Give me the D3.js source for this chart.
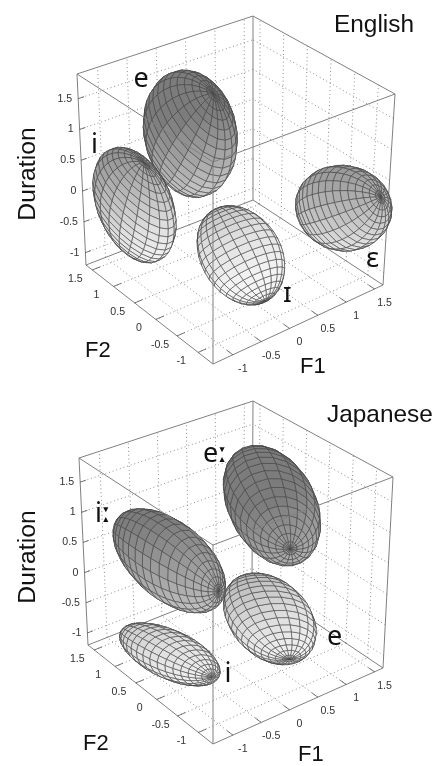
<!DOCTYPE html>
<html><head><meta charset="utf-8">
<script src="https://cdn.jsdelivr.net/npm/d3@7"></script>
<style>html,body{margin:0;padding:0;background:#fff}svg{display:block;filter:blur(0.4px)}</style>
</head><body><svg id="c" width="438" height="766"></svg>
<script>
// ---- data (F1, F2, Duration) ----
const tickValues = [-1, -0.5, 0, 0.5, 1, 1.5];
const tickLabels = ["-1", "-0.5", "0", "0.5", "1", "1.5"];
const f1Range = [-1.35, 1.65];
const f2Range = [-1.35, 1.65];
const durRange = [-1.2, 1.9];

const englishVowels = ["ɛ", "ɪ", "e", "i"];
const englishCenters = [[1.16, -1, 0.08], [0.22, 0.07, -0.815], [-0.25, 0.6, 1.06], [-0.93, 1, -0.05]];
const englishPoleAxes = [[0.23, -0.5, 0.32], [0.36, -0.1, -0.83], [0.16, -0.3, 0.74], [-0.01, -0.25, 0.82]];
const englishSecondAxes = [[0.388, 0, -0.794], [-0.642, 0, -0.029], [0.593, 0, -0.956], [0.65, 0, -0.811]];
const englishThirdAxes = [[0.41, 0, 0.035], [0.076, 0, -0.165], [0.374, 0, 0.136], [0.235, 0, 0.145]];

const japaneseVowels = ["i", "e", "iː", "eː"];
const japaneseCenters = [[-0.98, 0.16, -0.7], [0.52, -0.2, -0.505], [-0.955, 0.17, 0.8], [0.7, 0.02, 1.19]];
const japanesePoleAxes = [[0.515, -0.3, -0.4], [0.193, -0.2, -0.635], [0.465, -0.5, -0.417], [-0.07, -0.5, -0.46]];
const japaneseSecondAxes = [[-0.473, 0, 0.053], [-0.75, 0, 0.225], [-0.099, 0, -0.64], [0.78, 0, -0.39]];
const japaneseThirdAxes = [[0.116, 0, -0.38], [0.049, 0, -0.375], [0.46, 0, -0.278], [-0.053, 0, -0.67]];

// ---- layout ----
const panels = [
  { title: "English", titleXY: [334, 32], durXY: [35, 174], f2XY: [85, 357], f1XY: [300, 373],
    vowels: englishVowels, centers: englishCenters, pole: englishPoleAxes, second: englishSecondAxes, third: englishThirdAxes,
    labelXY: [[366, 267], [283, 302], [133.5, 87], [91, 153]],
    bottom: [[[213, 364], [86, 265]], [[383, 285], [253, 200]]],
    top:    [[[213, 162], [77, 74]],  [[395, 94],  [253, 16]]] },
  { title: "Japanese", titleXY: [327, 422], durXY: [35, 557], f2XY: [83, 750], f1XY: [298, 761],
    vowels: japaneseVowels, centers: japaneseCenters, pole: japanesePoleAxes, second: japaneseSecondAxes, third: japaneseThirdAxes,
    labelXY: [[224.5, 682], [327, 645], [95, 522], [203, 462]],
    bottom: [[[213, 744], [88, 645]], [[383, 668], [252, 580]]],
    top:    [[[213, 545], [79, 458]], [[393, 477], [253, 401]]] }
];

const sF1 = d3.scaleLinear().domain(f1Range).range([0, 1]);
const sF2 = d3.scaleLinear().domain(f2Range).range([0, 1]);
const sD = d3.scaleLinear().domain(durRange).range([0, 1]);
const shade = d3.scaleLinear().domain([-1.2, -0.5, 0.1, 1.5]).range(["#f4f4f4", "#e0e0e0", "#c2c2c2", "#7c7c7c"]).clamp(true);

const svg = d3.select("#c");
const lineGen = d3.line();

function makeProjector(panel) {
  return function (f1, f2, d) {
    const u = sF1(f1), v = sF2(f2), w = sD(d);
    return [0, 1].map(k => {
      const b00 = panel.bottom[0][0][k], b01 = panel.bottom[0][1][k], b10 = panel.bottom[1][0][k], b11 = panel.bottom[1][1][k];
      const t00 = panel.top[0][0][k], t01 = panel.top[0][1][k], t10 = panel.top[1][0][k], t11 = panel.top[1][1][k];
      const bl = (a, b, c, e) => (a * (1 - v) + b * v) * (1 - u) + (c * (1 - v) + e * v) * u;
      return bl(b00, b01, b10, b11) * (1 - w) + bl(t00, t01, t10, t11) * w;
    });
  };
}

function drawPanel(panel) {
  const P = makeProjector(panel);
  const g = svg.append("g");
  const [f1a, f1b] = f1Range, [f2a, f2b] = f2Range, [da, db] = durRange;
  const seg = (sel, a, b) => sel.append("path").attr("d", lineGen([P(...a), P(...b)]));

  // dotted grid on floor and two back walls
  const grid = g.append("g").attr("fill", "none").attr("stroke", "#808080").attr("stroke-width", 0.9).attr("stroke-dasharray", "1 2.8");
  tickValues.forEach(t => {
    seg(grid, [t, f2a, da], [t, f2b, da]);
    seg(grid, [f1a, t, da], [f1b, t, da]);
    seg(grid, [t, f2b, da], [t, f2b, db]);
    seg(grid, [f1b, t, da], [f1b, t, db]);
    seg(grid, [f1a, f2b, t], [f1b, f2b, t]);
    seg(grid, [f1b, f2a, t], [f1b, f2b, t]);
  });

  // back box edges
  const edges = g.append("g").attr("fill", "none").attr("stroke", "#808080").attr("stroke-width", 1);
  [[[f1b, f2b, da], [f1b, f2b, db]], [[f1a, f2b, da], [f1b, f2b, da]], [[f1b, f2a, da], [f1b, f2b, da]],
   [[f1a, f2b, db], [f1b, f2b, db]], [[f1b, f2a, db], [f1b, f2b, db]],
   [[f1a, f2b, da], [f1a, f2b, db]], [[f1b, f2a, da], [f1b, f2a, db]],
   [[f1a, f2a, da], [f1a, f2b, da]], [[f1a, f2a, da], [f1b, f2a, da]]]
    .forEach(e => seg(edges, e[0], e[1]));

  // ellipsoids: only faces turned towards the viewer end on top
  const N = 20;
  panel.centers.forEach((c, idx) => {
    const A = panel.pole[idx], B = panel.second[idx], C = panel.third[idx];
    const pt = (i, j) => {
      const th = Math.PI * i / N, ph = 2 * Math.PI * j / N;
      return [0, 1, 2].map(k => c[k] + Math.cos(th) * A[k] + Math.sin(th) * (Math.cos(ph) * B[k] + Math.sin(ph) * C[k]));
    };
    const ring = d3.range(N).map(j => P(...pt(1, j)));
    const frontSign = Math.sign(d3.polygonArea(ring));
    const faces = [];
    d3.range(N).forEach(i => d3.range(N).forEach(j => {
      const q = [pt(i, j), pt(i + 1, j), pt(i + 1, j + 1), pt(i, j + 1)];
      const xy = q.map(p => P(...p));
      const front = Math.sign(d3.polygonArea(xy)) === frontSign;
      faces.push({ xy, front, dur: d3.mean(q, p => p[2]) });
    }));
    faces.sort((a, b) => d3.ascending(a.front, b.front));
    g.append("g").selectAll("path").data(faces).join("path")
      .attr("d", f => lineGen(f.xy) + "Z")
      .attr("fill", f => shade(f.dur))
      .attr("stroke", "#484848").attr("stroke-width", 0.6).attr("stroke-linejoin", "round");
  });

  // front box edges on top
  const front = g.append("g").attr("fill", "none").attr("stroke", "#808080").attr("stroke-width", 1);
  [[[f1a, f2a, da], [f1a, f2a, db]], [[f1a, f2a, db], [f1a, f2b, db]], [[f1a, f2a, db], [f1b, f2a, db]]]
    .forEach(e => seg(front, e[0], e[1]));

  // ticks + labels
  const ticks = g.append("g").attr("fill", "none").attr("stroke", "#555").attr("stroke-width", 0.8);
  const tl = svg.append("g").attr("font-family", "'Liberation Sans',Arial,sans-serif").attr("font-size", 10.6).attr("fill", "#333");
  tickValues.forEach((t, i) => {
    seg(ticks, [t, f2a, da], [t, f2a + 0.14, da]);
    seg(ticks, [f1a, t, da], [f1a + 0.14, t, da]);
    seg(ticks, [f1a, f2b, t], [f1a + 0.1, f2b, t]);
    const a = P(t, f2a, da), b = P(f1a, t, da), e = P(f1a, f2b, t);
    tl.append("text").text(tickLabels[i]).attr("x", a[0] + 10).attr("y", a[1] + 17).attr("text-anchor", "middle");
    tl.append("text").text(tickLabels[i]).attr("x", b[0] - 17).attr("y", b[1] + 12).attr("text-anchor", "middle");
    tl.append("text").text(tickLabels[i]).attr("x", e[0] - 6).attr("y", e[1] + 3).attr("text-anchor", "end");
  });

  // text
  const sans = "'Liberation Sans',Arial,sans-serif";
  svg.append("text").text(panel.title).attr("x", panel.titleXY[0]).attr("y", panel.titleXY[1])
    .attr("font-family", sans).attr("font-size", 24.4).attr("fill", "#111");
  svg.append("text").text("Duration").attr("transform", `translate(${panel.durXY[0]},${panel.durXY[1]}) rotate(-90)`)
    .attr("text-anchor", "middle").attr("font-family", sans).attr("font-size", 24.7).attr("fill", "#111");
  svg.append("text").text("F2").attr("x", panel.f2XY[0]).attr("y", panel.f2XY[1]).attr("font-family", sans).attr("font-size", 22).attr("fill", "#111");
  svg.append("text").text("F1").attr("x", panel.f1XY[0]).attr("y", panel.f1XY[1]).attr("font-family", sans).attr("font-size", 22).attr("fill", "#111");
  panel.vowels.forEach((v, i) => {
    const t = svg.append("text").attr("x", panel.labelXY[i][0]).attr("y", panel.labelXY[i][1])
      .attr("font-family", "'Noto Sans',sans-serif").attr("font-size", 27).attr("fill", "#111");
    t.append("tspan").text(v.replace("ː", ""));
    if (v.includes("ː")) t.append("tspan").text("ː").attr("font-family", "'DejaVu Sans',sans-serif").attr("font-weight", "bold").attr("font-size", 26);
  });
}
panels.forEach(drawPanel);
</script></body></html>
